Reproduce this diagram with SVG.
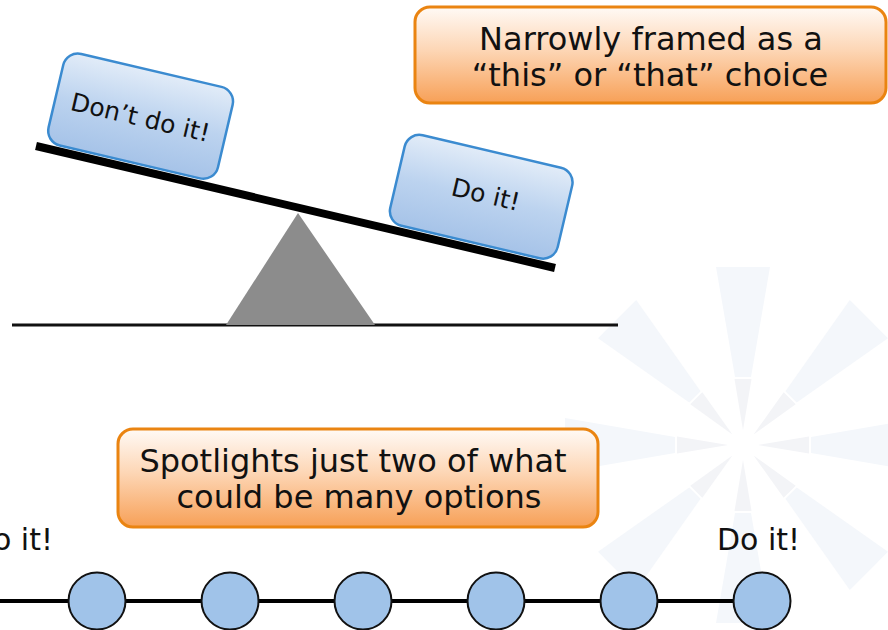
<svg xmlns="http://www.w3.org/2000/svg" width="888" height="630" viewBox="0 0 888 630">
  <defs>
    <linearGradient id="blueFill" x1="0" y1="0" x2="0" y2="1">
      <stop offset="0" stop-color="#e2ecf8"/>
      <stop offset="0.5" stop-color="#bcd3ef"/>
      <stop offset="1" stop-color="#a6c3e8"/>
    </linearGradient>
    <linearGradient id="orangeFill" x1="0" y1="0" x2="0" y2="1">
      <stop offset="0" stop-color="#fffaf6"/>
      <stop offset="0.45" stop-color="#fdd6b5"/>
      <stop offset="1" stop-color="#f7a057"/>
    </linearGradient>
    <!-- one ray of the faint background burst, pointing up from the centre -->
    <g id="ray">
      <polygon class="ray-outer" points="-27,-178 27,-178 8,-68 -8,-68"/>
      <polygon class="ray-inner" points="-8.5,-66 8.5,-66 0,-15"/>
    </g>
  </defs>
  <style>
    .hand { font-family: 'Comic Sans MS', 'Segoe Print', 'DejaVu Sans', sans-serif; fill: #111; }
    .callout-box { fill: url(#orangeFill); stroke: #ea8411; stroke-width: 3; }
    .callout-text { font-family: 'DejaVu Sans', Verdana, sans-serif; font-size: 32px; fill: #111; text-anchor: middle; }
    .choice-box { fill: url(#blueFill); stroke: #3b8bd0; stroke-width: 2.5; }
    .option { fill: #a0c3e9; stroke: #111; stroke-width: 2; }
    .ray-outer { fill: #f4f7fb; }
    .ray-inner { fill: #f3f4f7; }
  </style>

  <rect width="888" height="630" fill="#ffffff"/>

  <!-- faint converging burst in the background -->
  <g id="burst" transform="translate(743,445)">
    <use href="#ray"/>
    <use href="#ray" transform="rotate(45)"/>
    <use href="#ray" transform="rotate(90)"/>
    <use href="#ray" transform="rotate(135)"/>
    <use href="#ray" transform="rotate(180)"/>
    <use href="#ray" transform="rotate(225)"/>
    <use href="#ray" transform="rotate(270)"/>
    <use href="#ray" transform="rotate(315)"/>
  </g>

  <!-- seesaw: ground, fulcrum, tilted beam -->
  <g id="seesaw">
    <line x1="12" y1="325" x2="618" y2="325" stroke="#111" stroke-width="3"/>
    <polygon id="fulcrum" points="298,213 375,325 226,325" fill="#8c8c8c"/>
    <line x1="36" y1="146" x2="555" y2="268" stroke="#000" stroke-width="8"/>
  </g>

  <!-- choice boxes resting on the beam (beam frame: origin at left end, rotated with the beam) -->
  <g id="option-dont" transform="translate(36,146) rotate(13.23)">
    <rect class="choice-box" x="8" y="-100" width="174" height="94" rx="15"/>
    <text class="hand" x="95" y="-43" font-size="25" text-anchor="middle">Don’t do it!</text>
  </g>
  <g id="option-do" transform="translate(36,146) rotate(13.23)">
    <rect class="choice-box" x="359" y="-99" width="172" height="93" rx="15"/>
    <text class="hand" x="449" y="-47" font-size="25" text-anchor="middle">Do it!</text>
  </g>

  <!-- callouts -->
  <g id="callout-framed">
    <rect class="callout-box" x="415" y="7" width="471" height="96" rx="15"/>
    <text class="callout-text" x="651" y="50">Narrowly framed as a</text>
    <text class="callout-text" x="650" y="86">“this” or “that” choice</text>
  </g>
  <g id="callout-spotlight">
    <rect class="callout-box" x="118" y="429" width="480" height="98" rx="15"/>
    <text class="callout-text" x="353" y="472">Spotlights just two of what</text>
    <text class="callout-text" x="359" y="508">could be many options</text>
  </g>

  <!-- spectrum of options -->
  <g id="connectors">
    <line x1="0" y1="601" x2="762" y2="601" stroke="#000" stroke-width="4"/>
  </g>
  <g id="opt-1"><circle class="option" cx="97" cy="601" r="28.5"/></g>
  <g id="opt-2"><circle class="option" cx="230" cy="601" r="28.5"/></g>
  <g id="opt-3"><circle class="option" cx="363" cy="601" r="28.5"/></g>
  <g id="opt-4"><circle class="option" cx="496" cy="601" r="28.5"/></g>
  <g id="opt-5"><circle class="option" cx="629" cy="601" r="28.5"/></g>
  <g id="opt-6"><circle class="option" cx="762" cy="601" r="28.5"/></g>

  <!-- end labels of the spectrum; the left one runs off the page edge -->
  <g id="label-left"><text class="hand" x="53" y="550" font-size="30" text-anchor="end">Don’t do it!</text></g>
  <g id="label-right"><text class="hand" x="717" y="550" font-size="30">Do it!</text></g>
</svg>
